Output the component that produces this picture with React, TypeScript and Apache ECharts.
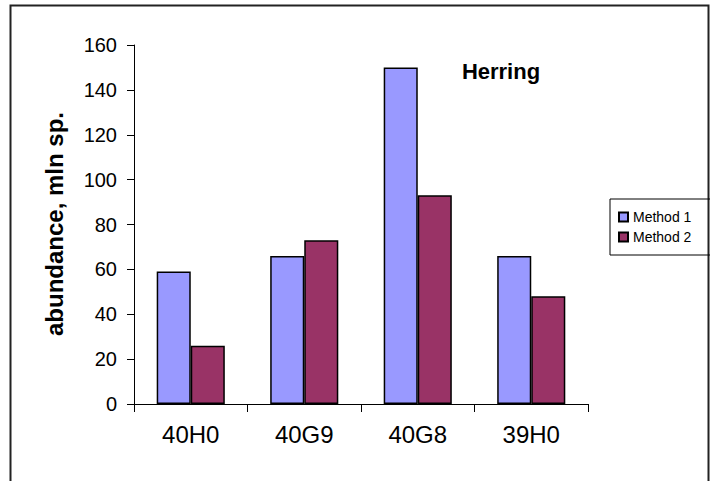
import React, { useEffect, useRef } from "react";
import * as echarts from "echarts";

const categories = ["40H0", "40G9", "40G8", "39H0"];
const method1 = [59, 66, 150, 66];
const method2 = [26, 73, 93, 48];
const seriesNames = ["Method 1", "Method 2"];
const yTitle = "abundance, mln sp.";
const chartTitle = "Herring";

const FONT = "'Liberation Sans', Arial, sans-serif";

export default function App() {
  const ref = useRef<HTMLDivElement>(null);
  useEffect(() => {
    if (!ref.current) return;
    const chart = echarts.init(ref.current, undefined, { renderer: "svg" });
    chart.setOption({
      animation: false,
      backgroundColor: "#ffffff",
      textStyle: { fontFamily: FONT },
      grid: { left: 134, right: 122, top: 45, bottom: 77 },
      legend: {
        orient: "vertical",
        left: 610,
        top: 199,
        icon: "rect",
        itemWidth: 9,
        itemHeight: 9,
        itemGap: 6,
        padding: [11, 31, 11, 8],
        borderColor: "#000",
        borderWidth: 1,
        textStyle: { fontSize: 14, color: "#000", fontFamily: FONT },
        data: seriesNames,
      },
      xAxis: {
        type: "category",
        data: categories,
        axisLine: { show: true, lineStyle: { color: "#000", width: 1 } },
        axisTick: { show: true, length: 8, inside: false, lineStyle: { color: "#000" } },
        axisLabel: { fontSize: 24, color: "#000", margin: 18, fontFamily: FONT },
        splitLine: { show: false },
      },
      yAxis: {
        type: "value",
        min: 0,
        max: 160,
        interval: 20,
        axisLine: { show: true, lineStyle: { color: "#000", width: 1 } },
        axisTick: { show: true, length: 7, inside: false, lineStyle: { color: "#000" } },
        axisLabel: { fontSize: 20, color: "#000", margin: 17, fontFamily: FONT },
        splitLine: { show: false },
      },
      series: [
        {
          name: seriesNames[0],
          type: "bar",
          data: method1,
          barGap: "0%",
          barCategoryGap: "40%",
          itemStyle: { color: "#9999FF", borderColor: "#000", borderWidth: 1.5 },
        },
        {
          name: seriesNames[1],
          type: "bar",
          data: method2,
          barGap: "0%",
          barCategoryGap: "40%",
          itemStyle: { color: "#993366", borderColor: "#000", borderWidth: 1.5 },
        },
      ],
      graphic: [
        {
          type: "rect",
          shape: { x: 10.5, y: 5.5, width: 698, height: 520 },
          style: { fill: "none", stroke: "#222", lineWidth: 2 },
          silent: true,
        },
        {
          type: "text",
          x: 54,
          y: 224,
          rotation: Math.PI / 2,
          style: {
            text: yTitle,
            fontSize: 24,
            fontWeight: "bold",
            fontFamily: FONT,
            fill: "#000",
            textAlign: "center",
            textVerticalAlign: "middle",
          },
        },
        {
          type: "text",
          x: 501,
          y: 71,
          style: {
            text: chartTitle,
            fontSize: 22,
            fontWeight: "bold",
            fontFamily: FONT,
            fill: "#000",
            textAlign: "center",
            textVerticalAlign: "middle",
          },
        },
      ],
    });
    return () => chart.dispose();
  }, []);
  return (
    <div
      ref={ref}
      style={{ position: "absolute", left: 0, top: 0, width: 710, height: 481 }}
    />
  );
}
